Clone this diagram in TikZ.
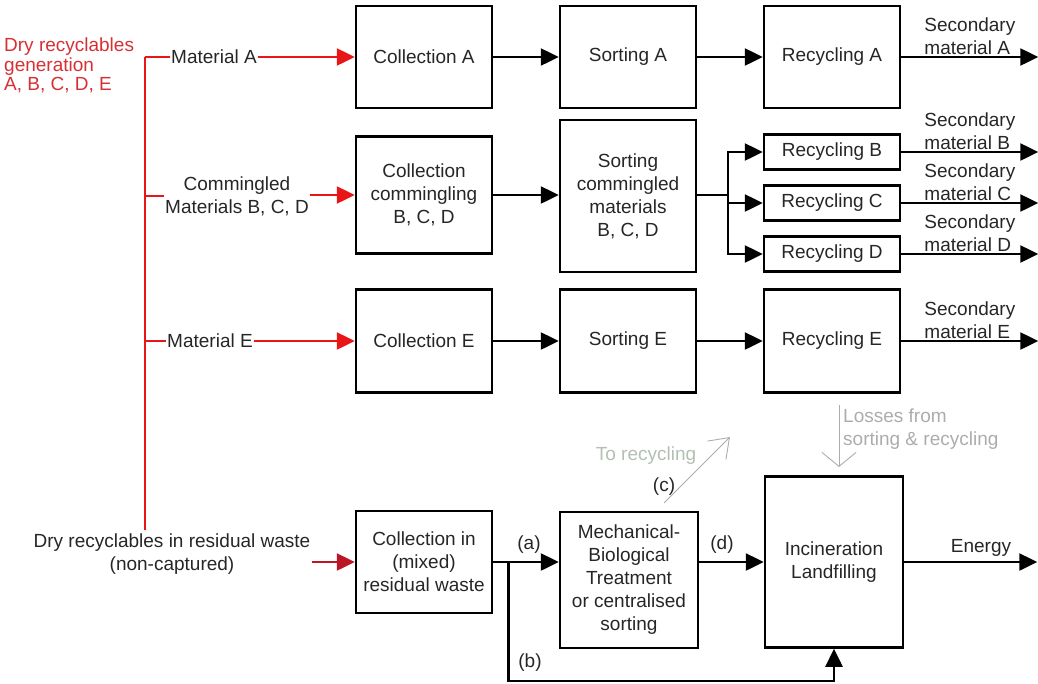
\documentclass[tikz,border=0pt]{standalone}
\usepackage{fontspec}
\setmainfont{Liberation Sans}
\usetikzlibrary{arrows.meta, positioning}

\definecolor{flowred}{RGB}{232,22,22}
\definecolor{darkred}{RGB}{188,22,36}
\definecolor{headred}{RGB}{214,48,52}
\definecolor{inktxt}{RGB}{38,38,38}
\definecolor{paletxt}{RGB}{178,192,178}
\definecolor{greytxt}{RGB}{172,172,172}

\tikzset{
    box/.style={draw, line width=2.5pt, minimum width=136pt, align=center, inner sep=1pt, text=inktxt},
    lbl/.style={text=inktxt, align=center, inner sep=1pt},
    flow/.style={line width=2.5pt, -{Triangle[length=18pt, width=17pt]}},
    redflow/.style={flow, draw=flowred, fill=flowred},
    thinflow/.style={line width=0.9pt, draw=greytxt}
}

\begin{document}
\begin{tikzpicture}[x=1pt, y=-1pt, font=\fontsize{19}{23}\selectfont]
    \useasboundingbox (0,0) rectangle (1038,683);

    % process boxes
    \node[box, minimum height=102pt] (collA) at (424,57) {Collection A};
    \node[box, minimum height=102pt] (sortA) at (628,57) {Sorting A};
    \node[box, minimum height=102pt] (recA) at (832,57) {Recycling A};

    \node[box, minimum height=117pt] (collBCD) at (424,195) {Collection\\commingling\\B, C, D};
    \node[box, minimum height=152pt] (sortBCD) at (628,196) {Sorting\\commingled\\materials\\B, C, D};
    \node[box, minimum height=35pt] (recB) at (832,152) {Recycling B};
    \node[box, minimum height=35pt] (recC) at (832,203) {Recycling C};
    \node[box, minimum height=35pt] (recD) at (832,254) {Recycling D};

    \node[box, minimum height=103pt] (collE) at (424,341) {Collection E};
    \node[box, minimum height=103pt] (sortE) at (628,341) {Sorting E};
    \node[box, minimum height=103pt] (recE) at (832,341) {Recycling E};

    \node[box, minimum height=102pt] (collR) at (424,562) {Collection in\\(mixed)\\residual waste};
    \node[box, minimum width=138pt, minimum height=136pt] (mbt) at (629,580) {Mechanical-\\Biological\\Treatment\\or centralised\\sorting};
    \node[box, minimum width=138pt, minimum height=171pt] (incin) at (834,562) {Incineration\\Landfilling};

    % sources on the left
    \node[text=headred, align=left, inner sep=0pt, anchor=north west, font=\fontsize{19}{19.5}\selectfont] (gen) at (4,38) {Dry recyclables\\generation\\A, B, C, D, E};
    \node[lbl] (matA) at (214,57) {Material A};
    \node[lbl] (matBCD) at (237,196) {Commingled\\Materials B, C, D};
    \node[lbl] (matE) at (210,341) {Material E};
    \node[lbl] (resid) at (172,554) {Dry recyclables in residual waste\\(non-captured)};

    \coordinate (trunkTop) at (145,57);
    \coordinate (trunkEnd) at (145,530);
    \draw[line width=2.5pt, flowred] (trunkTop) -- (trunkEnd);
    \draw[line width=2.5pt, flowred] (trunkTop) -- (matA.west);
    \draw[line width=2.5pt, flowred] (trunkTop |- matBCD) -- (matBCD.west);
    \draw[line width=2.5pt, flowred] (trunkTop |- matE) -- (matE.west);
    \draw[redflow] (matA.east) -- (collA.west);
    \draw[redflow] (matBCD.east |- collBCD) -- (collBCD.west);
    \draw[redflow] (matE.east) -- (collE.west);
    \draw[redflow, draw=darkred, fill=darkred] (resid.east |- collR) -- (collR.west);

    % separate collection chains
    \draw[flow] (collA) -- (sortA);
    \draw[flow] (sortA) -- (recA);
    \draw[flow] (collBCD.east) -- (collBCD.east -| sortBCD.west);
    \draw[flow] (collE) -- (sortE);
    \draw[flow] (sortE) -- (recE);

    \coordinate (split) at (728,195);
    \draw[line width=2.5pt] (sortBCD.east |- split) -- (split);
    \draw[flow] (split) |- (recB.west);
    \draw[flow] (split) |- (recC.west);
    \draw[flow] (split) |- (recD.west);

    \foreach \r in {A,B,C,D,E} {
        \draw[flow] (rec\r.east) -- ++(137,0);
        \node[lbl, align=left, anchor=south west] (sec\r) at ([xshift=22pt, yshift=1pt]rec\r.east) {Secondary\\material \r};
    }

    % residual waste route
    \coordinate (bsplit) at ([xshift=15pt]collR.east);
    \draw[flow] (collR.east) -- (collR.east -| mbt.west);
    \draw[flow] (mbt.east |- incin.west) -- (incin.west);
    \draw[flow] (bsplit) |- ([yshift=-32pt]incin.south) -- (incin.south);
    \draw[flow] (incin.east) -- ++(133,0);

    \node[lbl] (la) at (529,545) {(a)};
    \node[lbl] (lb) at (530,663) {(b)};
    \node[lbl] (lc) at (664,487) {(c)};
    \node[lbl] (ld) at (722,545) {(d)};
    \node[lbl] (energy) at (981,548) {Energy};

    % pale notes
    \node[lbl, text=paletxt] (torec) at (646,456) {To recycling};
    \coordinate (cfrom) at (664,503);
    \coordinate (cto) at (730,437);
    \draw[thinflow, -{Straight Barb[length=18pt, width=26pt]}] (cfrom) -- (cto);

    \node[lbl, text=greytxt, align=left, anchor=north west] (losses) at (842,408) {Losses from\\sorting \& recycling};
    \coordinate (lossTop) at (839,405);
    \coordinate (lossEnd) at (839,467);
    \draw[thinflow, -{Straight Barb[length=14pt, width=34pt]}] (lossTop) -- (lossEnd);
\end{tikzpicture}
\end{document}
